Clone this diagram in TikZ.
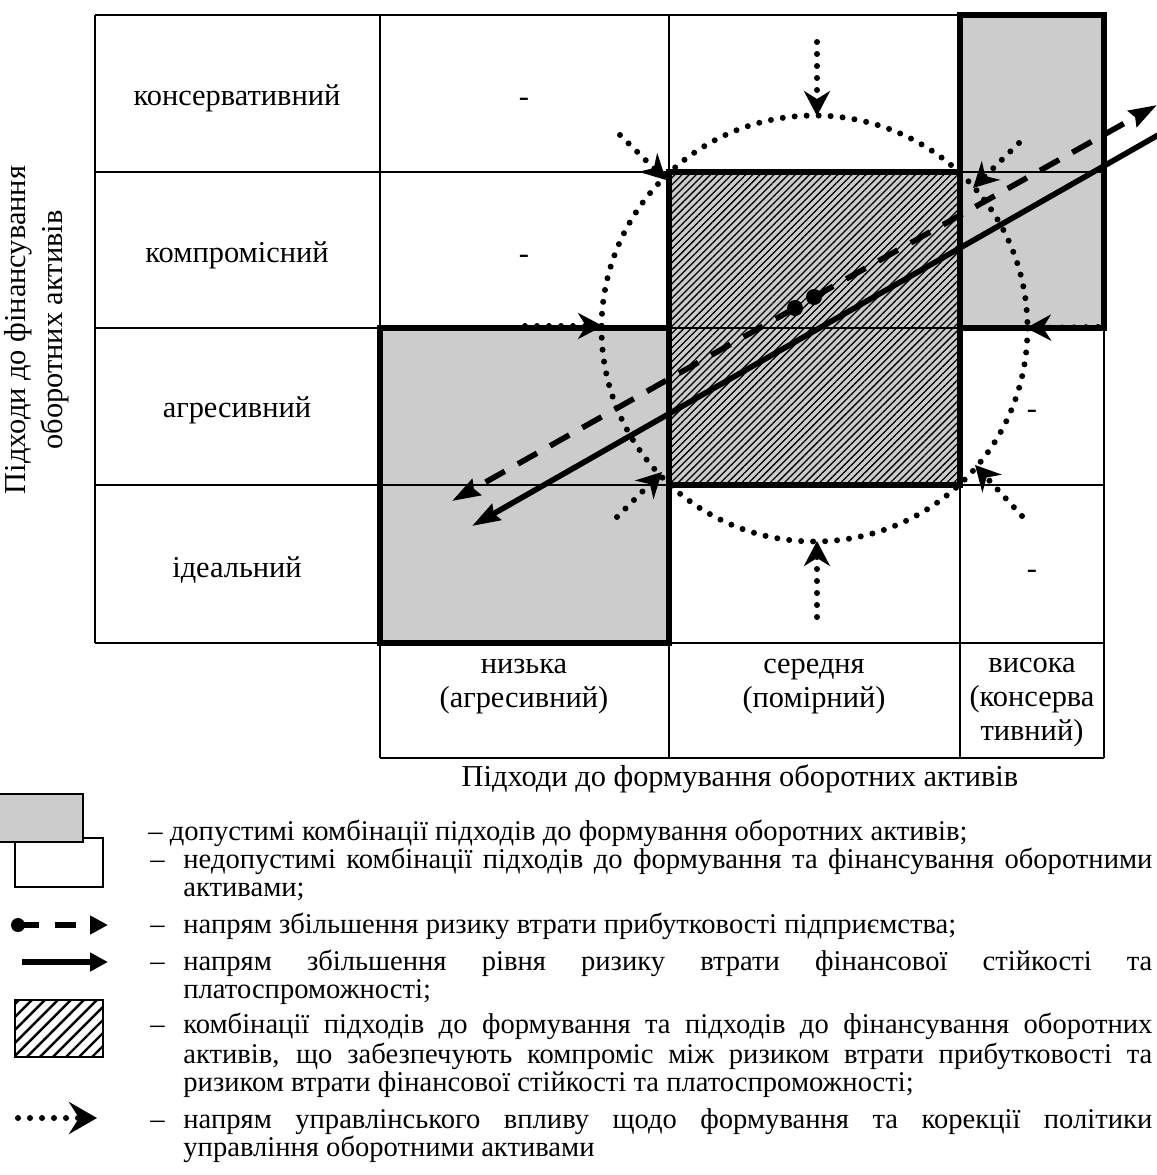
\documentclass[tikz,border=0pt]{standalone}
\usepackage{fontspec}
\setmainfont{Liberation Serif}
\usetikzlibrary{arrows.meta,patterns.meta}
\definecolor{cellgray}{RGB}{204,204,204}
\newcommand{\legjust}[1]{\makebox[484.5pt][s]{#1}}
\tikzset{
  gridline/.style={line width=1pt},
  heavybox/.style={line width=3pt, line join=miter},
  graycell/.style={fill=cellgray},
  hatchcell/.style={pattern={Lines[angle=45,distance=2.5pt,line width=0.65pt]}},
  dotline/.style={line width=3pt, line cap=round, dash pattern=on 0pt off 6pt},
  ctlarrow/.style={dotline, -{Stealth[length=12.5pt,width=13pt,inset=4pt]}},
  riskline/.style={line width=2.8pt, -{Stealth[length=14pt,width=9pt,inset=1.5pt]}},
  riskdash/.style={riskline, dash pattern=on 11pt off 7.5pt},
  celltext/.style={font=\fontsize{15.2}{17}\selectfont, align=center, inner sep=0pt},
  legtext/.style={font=\fontsize{14.3}{16}\selectfont, anchor=base west, inner sep=0pt},
  startdot/.style={fill=black}
}
\begin{document}
\begin{tikzpicture}[x=0.5pt,y=-0.5pt]
\useasboundingbox (0,0) rectangle (1157,1175);

% fills
\fill[graycell] (960,15) rectangle (1104,328);
\fill[graycell] (380,328) rectangle (669,643);
\fill[graycell] (669,172) rectangle (960,485);
\fill[hatchcell] (669,172) rectangle (960,485);

% thin grid
\draw[gridline] (95,15) -- (960,15);
\foreach \yy in {172,328,485,643} \draw[gridline] (95,\yy) -- (1104,\yy);
\draw[gridline] (380,758) -- (1104,758);
\draw[gridline] (95,15) -- (95,643);
\foreach \xx in {380,669,960} \draw[gridline] (\xx,15) -- (\xx,758);
\draw[gridline] (1104,15) -- (1104,758);

% heavy outlines
\draw[heavybox] (960,15) rectangle (1104,328);
\draw[heavybox] (380,328) rectangle (669,643);
\draw[heavybox] (669,172) rectangle (960,485);

% row labels
\node[celltext] (r1) at (237,98) {консервативний};
\node[celltext] (r2) at (237,255) {компромісний};
\node[celltext] (r3) at (237,410) {агресивний};
\node[celltext] (r4) at (237,570) {ідеальний};
\node[celltext] (d1) at (524,102) {-};
\node[celltext] (d2) at (524,259) {-};
\node[celltext] (d3) at (1032,414) {-};
\node[celltext] (d4) at (1032,574) {-};

% column headers
\node[celltext] (c1) at (524,687) {низька\\(агресивний)};
\node[celltext] (c2) at (814,687) {середня\\(помірний)};
\node[celltext] (c3) at (1032,703) {висока\\(консерва\\тивний)};
\node[celltext] (xlab) at (740,779) {Підходи до формування оборотних активів};
\node[celltext, font=\fontsize{15.2}{18.5}\selectfont, rotate=90] (ylab) at (37,330) {Підходи до фінансування\\оборотних активів};

% dotted circle
\draw[dotline] (814.5,328.5) circle [radius=213];

% control arrows
\coordinate (t1s) at (817,42);   \coordinate (t1e) at (817,116);
\coordinate (t2s) at (817,617);  \coordinate (t2e) at (817,541);
\coordinate (t3s) at (620,135);  \coordinate (t3e) at (666,180);
\coordinate (t4s) at (1019,143); \coordinate (t4e) at (973,188);
\coordinate (t5s) at (525,326);  \coordinate (t5e) at (603,326);
\coordinate (t6s) at (1098,327); \coordinate (t6e) at (1026,328);
\coordinate (t7s) at (617,517);  \coordinate (t7e) at (662,472);
\coordinate (t8s) at (1022,516); \coordinate (t8e) at (975,465);
\foreach \k in {1,...,8} \draw[ctlarrow] (t\k s) -- (t\k e);

% risk arrows
\coordinate (pa) at (814,297);
\coordinate (pb) at (795,308);
\coordinate (pae) at (1157,105);
\coordinate (pbe) at (452,501);
\coordinate (sa) at (1160,134);
\coordinate (sae) at (472,526);
\draw[riskdash] (pa) -- (pae);
\draw[riskdash] (pb) -- (pbe);
\draw[riskline] (sa) -- (sae);
\fill[startdot] (pa) circle [radius=8];
\fill[startdot] (pb) circle [radius=8];

% legend symbols
\draw[line width=1pt, fill=white] (15,838) rectangle (103,887);
\draw[line width=1pt, graycell] (-5,794) rectangle (83,842);
\fill[startdot] (18,925) circle [radius=7];
\coordinate (lgs) at (18,925); \coordinate (lge) at (108,925);
\draw[line width=2.8pt, dash pattern=on 10.5pt off 8pt, -{Triangle[length=9pt,width=9pt]}] (lgs) -- (lge);
\coordinate (lhs) at (22,962); \coordinate (lhe) at (108,962);
\draw[line width=2.8pt, -{Triangle[length=9pt,width=9pt]}] (lhs) -- (lhe);
\draw[line width=1pt, pattern={Lines[angle=45,distance=4.6pt,line width=1.2pt]}] (15,1000) rectangle (103,1057);
\coordinate (lks) at (18,1118); \coordinate (lke) at (97,1118);
\draw[dotline, -{Stealth[length=14pt,width=16pt,inset=5pt]}] (lks) -- (lke);

% legend text
\node[legtext] (g1) at (148,840) {– допустимі комбінації підходів до формування оборотних активів;};
\node[legtext] (g2d) at (150,868) {–};
\node[legtext] (g2) at (183,868) {\legjust{недопустимі комбінації підходів до формування та фінансування оборотними}};
\node[legtext] (g3) at (183,896) {активами;};
\node[legtext] (g4d) at (150,933) {–};
\node[legtext] (g4) at (183,933) {напрям збільшення ризику втрати прибутковості підприємства;};
\node[legtext] (g5d) at (150,970) {–};
\node[legtext] (g5) at (183,970) {\legjust{напрям збільшення рівня ризику втрати фінансової стійкості та}};
\node[legtext] (g6) at (183,998) {платоспроможності;};
\node[legtext] (g7d) at (150,1033) {–};
\node[legtext] (g7) at (183,1033) {\legjust{комбінації підходів до формування та підходів до фінансування оборотних}};
\node[legtext] (g8) at (183,1063) {\legjust{активів, що забезпечують компроміс між ризиком втрати прибутковості та}};
\node[legtext] (g9) at (183,1091) {ризиком втрати фінансової стійкості та платоспроможності;};
\node[legtext] (g10d) at (150,1128) {–};
\node[legtext] (g10) at (183,1128) {\legjust{напрям управлінського впливу щодо формування та корекції політики}};
\node[legtext] (g11) at (183,1156) {управління оборотними активами};
\end{tikzpicture}
\end{document}
